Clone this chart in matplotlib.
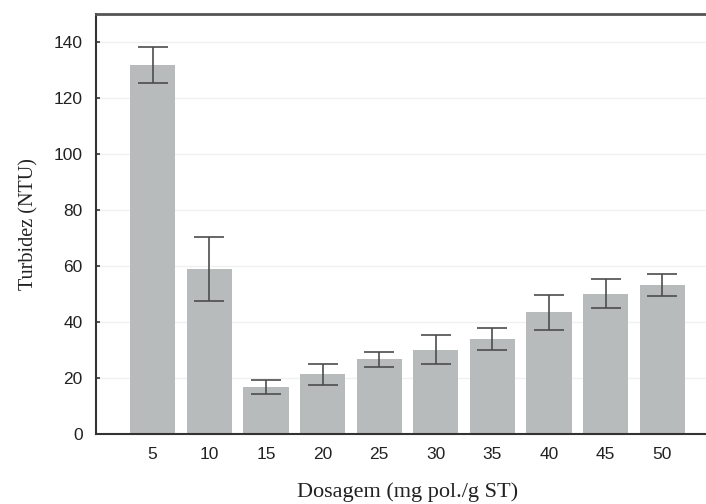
import matplotlib
matplotlib.use('Agg')
from matplotlib import pyplot as plt

# dosagem (mg pol./g ST) e turbidez (NTU)
dosagem = [5, 10, 15, 20, 25, 30, 35, 40, 45, 50]
turbidez = [131.8, 58.8, 16.6, 21.1, 26.5, 30.0, 33.8, 43.3, 49.9, 53.1]
erro = [6.5, 11.3, 2.6, 3.9, 2.6, 5.2, 3.8, 6.4, 5.2, 3.9]
yticks = [0, 20, 40, 60, 80, 100, 120, 140]

fig = plt.figure(figsize=(7.06, 5.04), dpi=100)
ax = fig.add_axes([96 / 706, 1 - 433.5 / 504, 623 / 706, 419.5 / 504])

ax.bar(dosagem, turbidez, width=4, color='#b8bbbb', zorder=2)
ax.errorbar(dosagem, turbidez, yerr=erro, fmt='none', ecolor='#4d4d4d',
            elinewidth=1.2, capsize=11, capthick=1.2, zorder=3)

ax.set_xlim(0, 55)
ax.set_ylim(0, 150)
ax.set_xticks(dosagem)
ax.set_yticks(yticks)
ax.grid(axis='y', color='#f0f0f0', linewidth=1, zorder=0)

for lado in ['left', 'bottom']:
    ax.spines[lado].set_color('#333333')
    ax.spines[lado].set_linewidth(1.5)
ax.spines['top'].set_color('#555555')
ax.spines['top'].set_linewidth(2)
ax.spines['right'].set_visible(False)

ax.tick_params(direction='in', length=3, width=1.2, color='#333333',
               labelsize=12.5, labelcolor='#222222', pad=10)
ax.tick_params(axis='y', pad=9.5)
for lab in ax.get_xticklabels() + ax.get_yticklabels():
    lab.set_family(['Liberation Sans', 'DejaVu Sans'])

ax.set_xlabel('Dosagem (mg pol./g ST)', family=['Liberation Serif', 'DejaVu Serif'],
              fontsize=16, labelpad=14, color='#222222')
ax.set_ylabel('Turbidez (NTU)', family=['Liberation Serif', 'DejaVu Serif'],
              fontsize=14.5, labelpad=11, color='#222222')

fig.savefig('out.png', dpi=100)
